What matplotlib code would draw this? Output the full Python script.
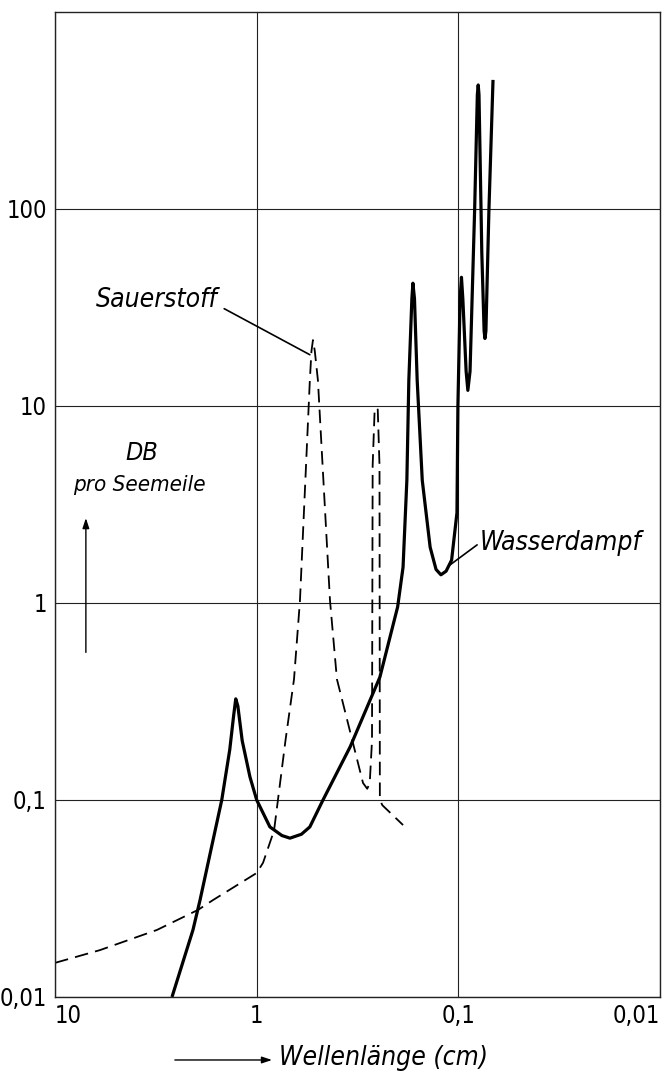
import matplotlib
matplotlib.use("Agg")
import matplotlib.pyplot as plt

# Wasserdampf (solid) - wavelength in cm, attenuation in DB per sea mile
water_x = [2.63, 2.07, 1.91, 1.49, 1.36, 1.30, 1.27, 1.24, 1.18, 1.08, 1.00, 0.86, 0.75,
           0.684, 0.60, 0.545, 0.469, 0.344, 0.245, 0.20, 0.188, 0.18, 0.176, 0.170,
           0.168, 0.165, 0.16, 0.151, 0.138, 0.129, 0.122, 0.115, 0.108, 0.1016, 0.1005,
           0.098, 0.0965, 0.095, 0.0915, 0.0897, 0.0875, 0.083, 0.0805, 0.0797, 0.079,
           0.0765, 0.0745, 0.0738, 0.073, 0.0705, 0.0673]
water_y = [0.01, 0.0219, 0.031, 0.1, 0.18, 0.27, 0.326, 0.30, 0.2, 0.131, 0.1, 0.073, 0.066,
           0.064, 0.067, 0.073, 0.1, 0.186, 0.42, 0.955, 1.52, 4.2, 13.5, 35,
           42, 35, 13.5, 4.2, 1.92, 1.48, 1.39, 1.45, 1.65, 2.87, 10,
           35, 45, 35, 15, 12, 15, 100, 380, 426, 380,
           60, 24, 22, 24, 100, 452]

# Sauerstoff (dashed)
oxy_x = [10, 5.98, 3.12, 1.95, 1.65, 1.0, 0.93, 0.82, 0.72, 0.653, 0.61, 0.545, 0.535,
         0.526, 0.515, 0.497, 0.433, 0.40, 0.297, 0.283, 0.275, 0.268, 0.266, 0.26,
         0.256, 0.251, 0.246, 0.245, 0.238, 0.188]
oxy_y = [0.0149, 0.0173, 0.0219, 0.0277, 0.031, 0.0426, 0.048, 0.07, 0.2, 0.41, 1.03, 13.5, 19,
         21.6, 19, 13.5, 1.03, 0.41, 0.122, 0.114, 0.122, 0.2, 5, 9.6,
         9.8, 9.6, 5, 0.1, 0.094, 0.0746]

xticks = [10, 1, 0.1, 0.01]
xticklabels = ["10", "1", "0,1", "0,01"]
yticks = [0.01, 0.1, 1, 10, 100]
yticklabels = ["0,01", "0,1", "1", "10", "100"]

fam = ["DejaVu Sans"]
st = "condensed"

fig = plt.figure(figsize=(6.67, 10.77), dpi=100)
ax = fig.add_axes([0.0825, 0.0743, 0.907, 0.9146])

ax.set_xscale("log")
ax.set_yscale("log")
ax.set_xlim(10, 0.01)
ax.set_ylim(0.01, 1000)

ax.plot(oxy_x, oxy_y, color="black", lw=1.3, dashes=(7.5, 4))
ax.plot(water_x, water_y, color="black", lw=2.3, solid_joinstyle="round", solid_capstyle="butt")

ax.set_xticks(xticks)
ax.set_xticklabels(xticklabels, fontsize=17, family=fam, fontstretch=st)
ax.set_yticks(yticks)
ax.set_yticklabels(yticklabels, fontsize=17, family=fam, fontstretch=st)
ax.minorticks_off()
ax.tick_params(length=0)
ax.tick_params(axis="y", pad=6)
ax.tick_params(axis="x", pad=5)
labs = ax.get_xticklabels()
labs[0].set_ha("left")
labs[-1].set_ha("right")

ax.grid(True, color="#222222", lw=0.8)
for s in ax.spines.values():
    s.set_linewidth(1.0)
    s.set_color("#222222")

# labels
ax.annotate("Sauerstoff", xy=(0.545, 18.2), xytext=(1.56, 34.5),
            ha="right", va="center", fontsize=19, style="italic", family=fam, fontstretch=st,
            arrowprops=dict(arrowstyle="-", color="black", lw=1.2, relpos=(1.0, 0.3),
                            shrinkA=3, shrinkB=0))
ax.annotate("Wasserdampf", xy=(0.110, 1.56), xytext=(0.0782, 2.02),
            ha="left", va="center", fontsize=19, style="italic", family=fam, fontstretch=st,
            arrowprops=dict(arrowstyle="-", color="black", lw=1.2, relpos=(0.0, 0.5),
                            shrinkA=0, shrinkB=0))

ax.text(0.144, 0.552, "DB", transform=ax.transAxes, ha="center", va="center",
        fontsize=18, style="italic", family=fam, fontstretch=st)
ax.text(0.139, 0.520, "pro Seemeile", transform=ax.transAxes, ha="center", va="center",
        fontsize=16, style="italic", family=fam, fontstretch=st)
ax.annotate("", xy=(0.051, 0.489), xytext=(0.051, 0.347), xycoords="axes fraction",
            arrowprops=dict(arrowstyle="-|>,head_length=0.6,head_width=0.2", color="black", lw=1.0))

fig.text(0.418, 0.0176, "Wellenlänge (cm)", ha="left", va="center",
         fontsize=19, style="italic", family=fam, fontstretch=st)
fig.add_artist(matplotlib.patches.FancyArrowPatch((0.258, 0.0158), (0.412, 0.0158),
               transform=fig.transFigure, arrowstyle="-|>,head_length=0.6,head_width=0.2",
               color="black", lw=1.0, mutation_scale=10))

fig.savefig("out.png", dpi=100)
